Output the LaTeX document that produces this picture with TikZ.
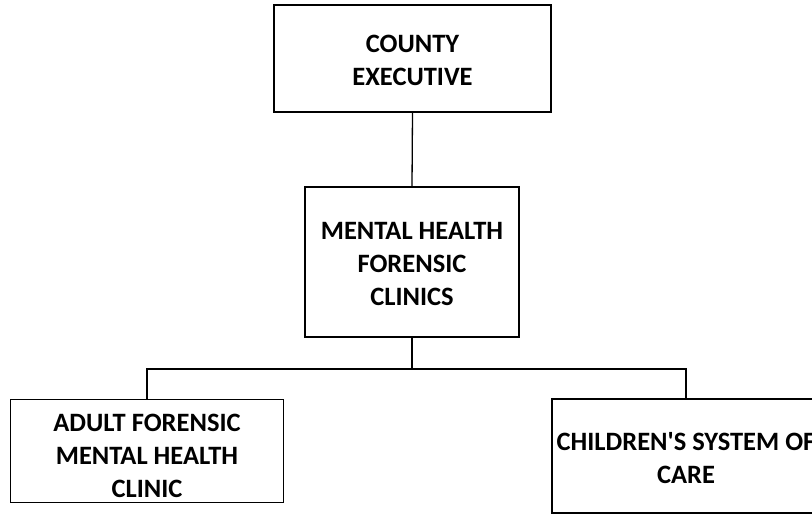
\documentclass[tikz,border=0pt]{standalone}
\usepackage{fontspec}
\setmainfont{Carlito}
\begin{document}
\begin{tikzpicture}[x=1pt,y=-1pt,
  orgbox/.style={draw=black, line width=1.4pt, fill=white, inner sep=0pt},
  orgtext/.style={align=center, inner sep=0pt,
    font=\fontsize{26.5}{33}\selectfont\bfseries},
  link/.style={draw=black, line width=1.3pt}]
  \useasboundingbox (0,0) rectangle (812,514);
  \clip (0,0) rectangle (812,514);
  \fill[white] (0,0) rectangle (812,514);

  % boxes of the chart
  \node[orgbox, minimum width=277pt, minimum height=107pt] (exec) at (412.5,58.5) {};
  \node[orgbox, minimum width=214pt, minimum height=150pt] (clinics) at (412,262) {};
  \node[orgbox, minimum width=273pt, minimum height=103pt] (adult) at (147,451) {};
  \node[orgbox, minimum width=268pt, minimum height=114pt] (children) at (686,456) {};

  % their titles
  \node[orgtext] (exectext) at ([yshift=-2pt]exec.center) {COUNTY\\EXECUTIVE};
  \node[orgtext] (clinicstext) at ([yshift=-2pt]clinics.center)
    {MENTAL HEALTH\\FORENSIC\\CLINICS};
  \node[orgtext] (adulttext) at ([yshift=-5pt]adult.center)
    {ADULT FORENSIC\\MENTAL HEALTH\\CLINIC};
  \node[orgtext] (childrentext) at ([yshift=-2pt]children.center)
    {CHILDREN\textquotesingle S SYSTEM OF\\CARE};

  % connectors
  \coordinate (bus) at (412,369);
  \draw[link] (exec.south) -- (clinics.north);
  \draw[link] (clinics.south) -- (bus);
  \draw[link] (adult.north) |- (bus) -| (children.north);
\end{tikzpicture}
\end{document}
